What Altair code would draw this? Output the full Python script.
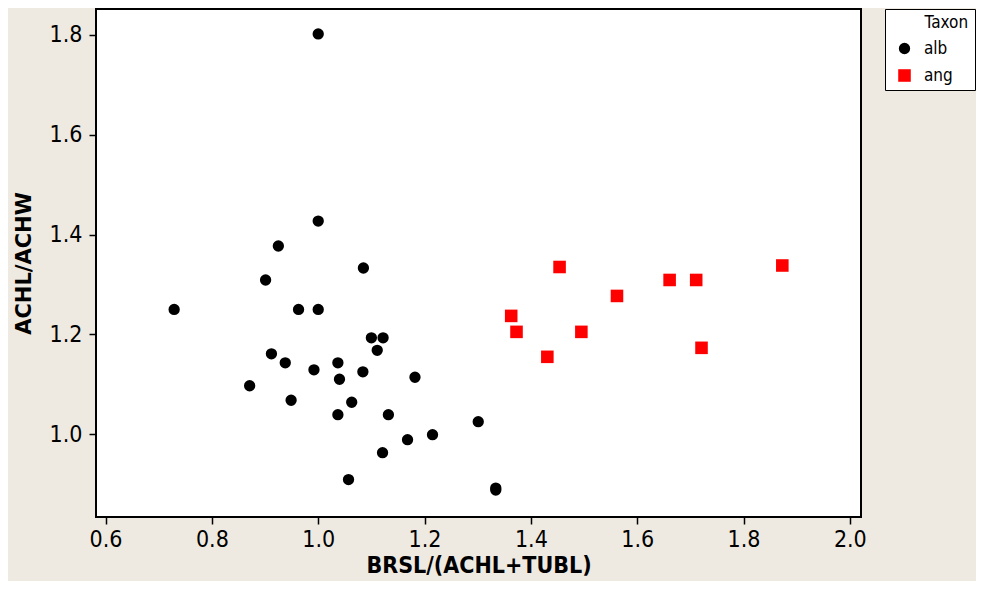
import altair as alt
import pandas as pd

# --- data ---
alb_x = [1.000, 0.729, 1.000, 0.925, 0.901, 1.085, 0.963, 1.000, 1.100, 1.122,
         1.111, 0.912, 0.938, 1.037, 0.992, 1.084, 1.040, 1.182, 0.871, 0.949,
         1.063, 1.037, 1.132, 1.301, 1.215, 1.168, 1.121, 1.057, 1.334, 1.334]
alb_y = [1.802, 1.250, 1.427, 1.377, 1.309, 1.333, 1.250, 1.250, 1.193, 1.193,
         1.168, 1.161, 1.143, 1.143, 1.129, 1.125, 1.110, 1.114, 1.097, 1.068,
         1.064, 1.039, 1.039, 1.025, 0.999, 0.989, 0.963, 0.909, 0.892, 0.888]
ang_x = [1.454, 1.363, 1.373, 1.495, 1.431, 1.562, 1.661, 1.711, 1.721, 1.873]
ang_y = [1.335, 1.237, 1.205, 1.205, 1.155, 1.277, 1.309, 1.309, 1.173, 1.338]
taxa = ["alb", "ang"]
x_ticks = [0.6, 0.8, 1.0, 1.2, 1.4, 1.6, 1.8, 2.0]
y_ticks = [1.0, 1.2, 1.4, 1.6, 1.8]

df = pd.DataFrame({
    "x": alb_x + ang_x,
    "y": alb_y + ang_y,
    "Taxon": [taxa[0]] * len(alb_x) + [taxa[1]] * len(ang_x),
})

FONT = "DejaVu Sans Condensed, DejaVu Sans"
BG = "#EEEAE1"

legend = alt.Legend(
    orient="none", legendX=789, legendY=0,
    title="\u2800\u2800\u2800Taxon",
    titleFont=FONT, titleFontSize=17, titleFontWeight="normal", titleColor="black",
    titlePadding=8,
    labelFont=FONT, labelFontSize=17, labelColor="black", labelOffset=11,
    padding=6, rowPadding=9, symbolOffset=5,
    strokeColor="black", fillColor="white", symbolStrokeWidth=0,
)

chart = alt.Chart(df).mark_point(filled=True, opacity=1).encode(
    x=alt.X("x:Q", title="BRSL/(ACHL+TUBL)",
            scale=alt.Scale(domain=[0.582, 2.021], nice=False, zero=False),
            axis=alt.Axis(values=x_ticks, format=".1f", labelPadding=4, titlePadding=3,
                          titleFont="DejaVu Sans Condensed", titleFontSize=23)),
    y=alt.Y("y:Q", title="ACHL/ACHW",
            scale=alt.Scale(domain=[0.834, 1.852], nice=False, zero=False),
            axis=alt.Axis(values=y_ticks, format=".1f", labelPadding=7, titlePadding=15,
                          titleFont="DejaVu Sans", titleFontSize=21)),
    color=alt.Color("Taxon:N", scale=alt.Scale(domain=taxa, range=["#000000", "#FF0000"]), legend=legend),
    shape=alt.Shape("Taxon:N", scale=alt.Scale(domain=taxa, range=["circle", "square"]), legend=legend),
    size=alt.Size("Taxon:N", scale=alt.Scale(domain=taxa, range=[128, 158]), legend=legend),
).properties(
    width=765, height=508,
    autosize=alt.AutoSizeParams(type="none"),
    padding={"left": 88, "top": 1, "right": 115, "bottom": 64},
    background=BG,
).configure_view(
    stroke="black", strokeWidth=2, fill="white",
).configure_axis(
    domain=False, grid=False,
    labelFont=FONT, labelFontSize=23, labelColor="black",
    tickColor="black", tickSize=7, tickWidth=1.5,
    titleFontWeight="bold", titleColor="black",
)

chart.save("out.html", embed_options={"renderer": "svg", "actions": False})
